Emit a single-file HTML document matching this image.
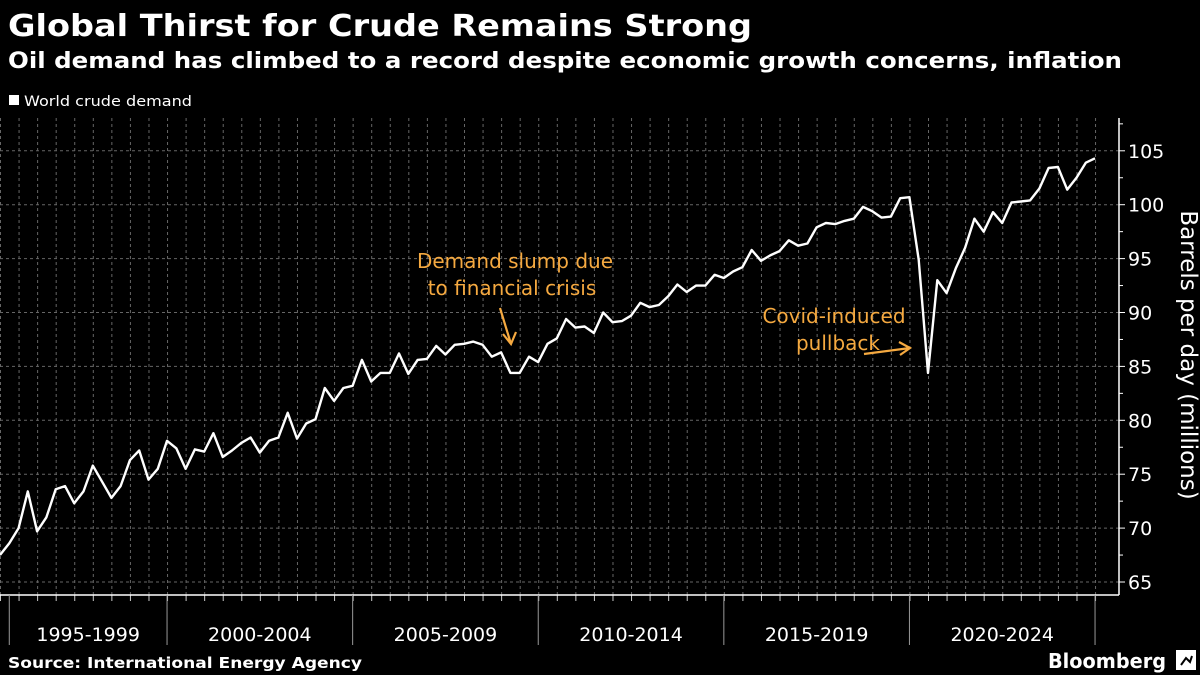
<!DOCTYPE html>
<html><head><meta charset="utf-8"><style>
html,body{margin:0;padding:0;background:#000;}
svg{display:block;font-family:"DejaVu Sans","Liberation Sans",sans-serif;}
</style></head><body>
<svg id="chart" width="1200" height="675" viewBox="0 0 1200 675" xmlns="http://www.w3.org/2000/svg">
<rect width="1200" height="675" fill="#000"/>
<text x="8" y="36" fill="#fff" font-size="30" font-weight="bold" textLength="744" lengthAdjust="spacingAndGlyphs">Global Thirst for Crude Remains Strong</text>
<text x="8" y="68" fill="#fff" font-size="22" font-weight="bold" textLength="1114" lengthAdjust="spacingAndGlyphs">Oil demand has climbed to a record despite economic growth concerns, inflation</text>
<rect x="9" y="95" width="10" height="10" fill="#fff"/>
<text x="24" y="106" fill="#fff" font-size="14" textLength="168" lengthAdjust="spacingAndGlyphs">World crude demand</text>
<g id="grid"></g>
<g id="axes"></g>
<polyline id="line" fill="none" stroke="#fff" stroke-width="2.4" stroke-linejoin="round"/>
<text transform="translate(1181,355) rotate(90)" text-anchor="middle" fill="#fff" font-size="23">Barrels per day (millions)</text>
<g fill="#f5a940" font-size="20" text-anchor="middle">
<text x="515" y="268">Demand slump due</text>
<text x="512" y="295">to financial crisis</text>
</g>
<path d="M500 308 L511 344 M503 334 L511 344 L516 332" stroke="#f5a940" stroke-width="2.2" fill="none"/>
<g fill="#f5a940" font-size="20" text-anchor="middle">
<text x="834" y="323">Covid-induced</text>
<text x="838" y="350">pullback</text>
</g>
<path d="M864 354 L910 348 M899 342 L910 348 L900 355" stroke="#f5a940" stroke-width="2.2" fill="none"/>
<text x="8" y="668" fill="#fff" font-size="15" font-weight="bold" textLength="354" lengthAdjust="spacingAndGlyphs">Source: International Energy Agency</text>
<text x="1048" y="668" fill="#fff" font-size="20" font-weight="bold" textLength="118" lengthAdjust="spacingAndGlyphs">Bloomberg</text>
<g>
<rect x="1176" y="650" width="20" height="20" fill="#fff"/>
<path d="M1181 665 L1186 658 L1190 662 L1192 656" stroke="#000" stroke-width="2" fill="none"/>
</g>
</svg>
<script>
const values = [67.5,68.6,70.0,73.4,69.7,71.0,73.6,73.9,72.3,73.4,75.8,74.3,72.8,73.9,76.3,77.2,74.5,75.5,78.1,77.4,
75.5,77.3,77.1,78.8,76.6,77.2,77.9,78.4,77.0,78.1,78.4,80.7,78.3,79.7,80.1,83.0,81.8,83.0,83.2,85.6,
83.6,84.4,84.4,86.2,84.3,85.6,85.7,86.9,86.1,87.0,87.1,87.3,87.0,85.9,86.3,84.4,84.4,85.9,85.4,87.1,
87.6,89.4,88.6,88.7,88.1,90.0,89.1,89.2,89.7,90.9,90.5,90.7,91.5,92.6,91.9,92.5,92.5,93.5,93.2,93.8,
94.2,95.8,94.8,95.3,95.7,96.7,96.2,96.4,97.9,98.3,98.2,98.5,98.7,99.8,99.4,98.8,98.9,100.6,100.7,94.9,
84.4,93.0,91.8,94.1,96.0,98.7,97.5,99.3,98.3,100.2,100.3,100.4,101.5,103.4,103.5,101.4,102.5,103.9,104.3];
const yTicks = [65,70,75,80,85,90,95,100,105];
const periodLabels = ["1995-1999","2000-2004","2005-2009","2010-2014","2015-2019","2020-2024"];
const periodStartIdx = [1,18,38,58,78,98,118];

const NS="http://www.w3.org/2000/svg";
const X0=0, DX=9.28, AXIS_X=1119, BASE_Y=595;
function xs(i){return X0+i*DX;}
function ys(v){return 582-(v-65)*10.78;}
function mk(tag,attrs,parent){const e=document.createElementNS(NS,tag);for(const k in attrs)e.setAttribute(k,attrs[k]);parent.appendChild(e);return e;}
const grid=document.getElementById('grid'), axes=document.getElementById('axes');
for(let i=0;i<values.length;i+=2){
  const g=mk('line',{x1:xs(i)+0.5,x2:xs(i)+0.5,y1:118,y2:BASE_Y,stroke:'#666','stroke-width':1,'stroke-dasharray':'3,3'},grid);
  
  
  const t=mk('line',{x1:xs(i)+0.5,x2:xs(i)+0.5,y1:BASE_Y,y2:BASE_Y+6,stroke:'#ccc','stroke-width':1},axes);
  
  
}
for(let v=65;v<=107.5;v+=2.5){
  const major=(v%5===0);
  if(major){
    const g=mk('line',{x1:0,x2:AXIS_X,y1:ys(v),y2:ys(v),stroke:'#666','stroke-width':1,'stroke-dasharray':'3,3'},grid);
    
    
  }
  const t=mk('line',{x1:AXIS_X,x2:AXIS_X+(major?6:4),y1:ys(v),y2:ys(v),stroke:'#fff','stroke-width':1},axes);
  
  
}
yTicks.forEach(v=>{
  const t=mk('text',{x:AXIS_X+9,y:ys(v)+7,fill:'#fff','font-size':19},axes);
  t.textContent=String(v);
  
  
});
const ya=mk('line',{x1:AXIS_X,x2:AXIS_X,y1:118,y2:BASE_Y,stroke:'#fff','stroke-width':1.5},axes);


const xa=mk('line',{x1:0,x2:AXIS_X,y1:BASE_Y,y2:BASE_Y,stroke:'#fff','stroke-width':1.5},axes);


periodStartIdx.forEach(i=>{
  const d=mk('line',{x1:xs(i),x2:xs(i),y1:BASE_Y,y2:645,stroke:'#999','stroke-width':1},axes);
  
  
});
periodLabels.forEach((lab,k)=>{
  const cx=(xs(periodStartIdx[k])+xs(periodStartIdx[k+1]))/2;
  const t=mk('text',{x:cx,y:641,fill:'#fff','font-size':19,'text-anchor':'middle'},axes);
  t.textContent=lab;
  
  
});
document.getElementById('line').setAttribute('points',values.map((v,i)=>xs(i).toFixed(1)+','+ys(v).toFixed(1)).join(' '));
</script>
</body></html>
